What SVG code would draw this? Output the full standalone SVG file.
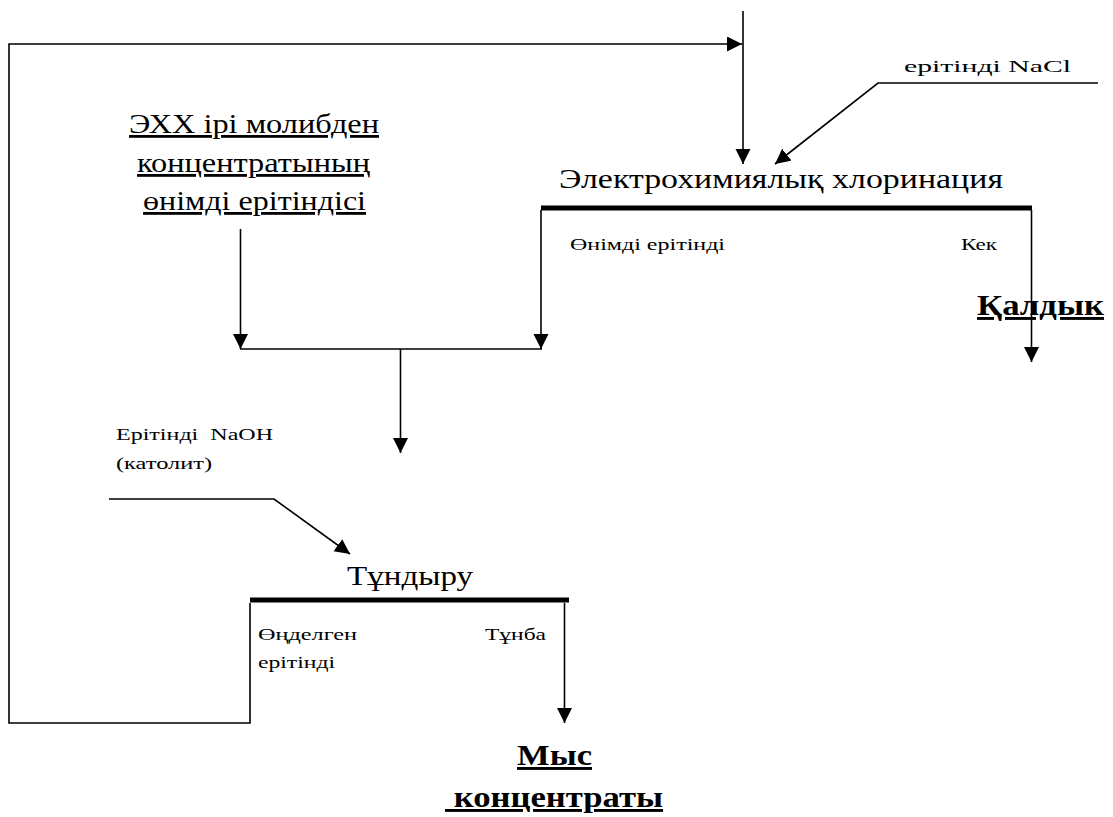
<svg xmlns="http://www.w3.org/2000/svg" width="1113" height="817" viewBox="0 0 1113 817">
<style>
text{font-family:"Liberation Serif","DejaVu Serif",serif;fill:#000}
.big{font-size:28px}
.sm{font-size:17px}
.out{font-size:29px;font-weight:bold;text-decoration:underline}
.ul{text-decoration:underline}
.ln{fill:none;stroke:#000;stroke-width:1.6}
.bar{fill:none;stroke:#000;stroke-width:5}
</style>
<defs>
<marker id="ah" markerUnits="userSpaceOnUse" markerWidth="16" markerHeight="16" viewBox="0 0 16 16" refX="15" refY="7.5" orient="auto">
<path d="M0,0 L15,7.5 L0,15 z" fill="#000"/>
</marker>
</defs>
<rect width="1113" height="817" fill="#fff"/>
<g id="connectors">
<polyline class="ln" points="250,603 250,723 9,723 9,44 742,44" marker-end="url(#ah)"/>
<line class="ln" x1="743" y1="11" x2="743" y2="164" marker-end="url(#ah)"/>
<polyline class="ln" points="1098,83 878,83 775,164" marker-end="url(#ah)"/>
<line class="ln" x1="240.5" y1="229" x2="240.5" y2="349" marker-end="url(#ah)"/>
<line class="ln" x1="541" y1="210" x2="541" y2="349" marker-end="url(#ah)"/>
<line class="ln" x1="240" y1="349" x2="542" y2="349"/>
<line class="ln" x1="400.5" y1="349" x2="400.5" y2="453" marker-end="url(#ah)"/>
<line class="ln" x1="1031.5" y1="210" x2="1031.5" y2="362" marker-end="url(#ah)"/>
<polyline class="ln" points="109,499 274,499 350,554" marker-end="url(#ah)"/>
<line class="ln" x1="564.5" y1="603" x2="564.5" y2="723" marker-end="url(#ah)"/>
</g>
<g id="feed">
<text class="big ul" x="129" y="133" textLength="250" lengthAdjust="spacingAndGlyphs">ЭХХ ірі молибден</text>
<text class="big ul" x="137" y="172" textLength="233" lengthAdjust="spacingAndGlyphs">концентратының</text>
<text class="big ul" x="143" y="210" textLength="223" lengthAdjust="spacingAndGlyphs">өнімді ерітіндісі</text>
</g>
<g id="nacl">
<text class="sm" x="904" y="72" textLength="167" lengthAdjust="spacingAndGlyphs">ерітінді NaCl</text>
</g>
<g id="chlorination">
<text class="big" x="559" y="188" textLength="444" lengthAdjust="spacingAndGlyphs">Электрохимиялық хлоринация</text>
<line class="bar" x1="541" y1="208" x2="1032" y2="208"/>
<text class="sm" x="570" y="250" textLength="155" lengthAdjust="spacingAndGlyphs">Өнімді ерітінді</text>
<text class="sm" x="961" y="250" textLength="36" lengthAdjust="spacingAndGlyphs">Кек</text>
</g>
<g id="residue">
<text class="out" x="977" y="315" textLength="127" lengthAdjust="spacingAndGlyphs">Қалдык</text>
</g>
<g id="naoh">
<text class="sm" x="116" y="440" xml:space="preserve" textLength="157" lengthAdjust="spacingAndGlyphs">Ерітінді  NaOH</text>
<text class="sm" x="116" y="469" textLength="96" lengthAdjust="spacingAndGlyphs">(католит)</text>
</g>
<g id="precipitation">
<text class="big" x="347" y="585" textLength="126" lengthAdjust="spacingAndGlyphs">Тұндыру</text>
<line class="bar" x1="250" y1="600" x2="569" y2="600"/>
<text class="sm" x="258" y="640" textLength="99" lengthAdjust="spacingAndGlyphs">Өңделген</text>
<text class="sm" x="258" y="668" textLength="77" lengthAdjust="spacingAndGlyphs">ерітінді</text>
<text class="sm" x="485" y="640" textLength="61" lengthAdjust="spacingAndGlyphs">Тұнба</text>
</g>
<g id="copper">
<text class="out" x="517" y="765" textLength="75" lengthAdjust="spacingAndGlyphs">Мыс</text>
<text class="out" x="445" y="807" xml:space="preserve" textLength="218" lengthAdjust="spacingAndGlyphs"> концентраты</text>
</g>
</svg>
